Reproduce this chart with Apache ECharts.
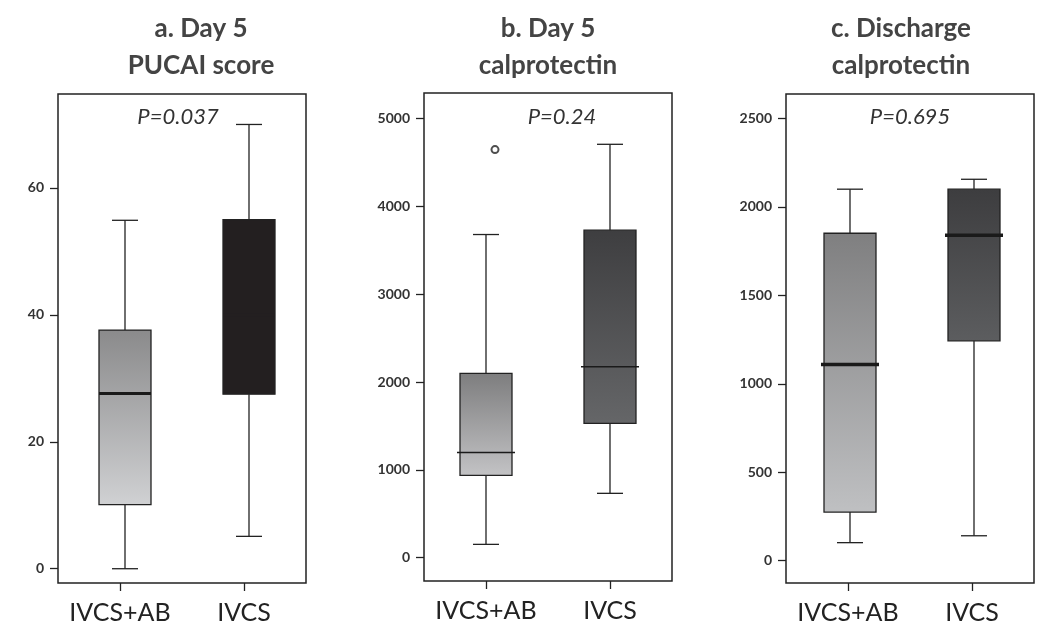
<!DOCTYPE html>
<html>
<head>
  <meta charset="utf-8">
  <title>Day 5 PUCAI / calprotectin</title>
  <script src="https://cdn.jsdelivr.net/npm/echarts@6/dist/echarts.min.js"></script>
  <style>
    html, body { margin: 0; padding: 0; background: #fff; }
    #chart { width: 1042px; height: 631px; }
  </style>
</head>
<body>
  <div id="chart"></div>
  <script>
    // categorias y datos
    const groups = ['IVCS+AB', 'IVCS'];
    const titles = ['a. Day 5\nPUCAI score', 'b. Day 5\ncalprotectin', 'c. Discharge\ncalprotectin'];
    const pValues = ['P=0.037', 'P=0.24', 'P=0.695'];

    // [low, q1, median, q3, high]
    const pucaiDay5 = [[0, 10.1, 27.6, 37.6, 54.9], [5.1, 27.5, 40, 55, 70]];
    const calproDay5 = [[152, 937, 1199, 2098, 3679], [733, 1529, 2173, 3728, 4706]];
    const calproDischarge = [[102, 275, 1109, 1851, 2100], [141, 1243, 1840, 2100, 2156]];
    const outliersDay5 = [[0, 4646]];

    const yMins = [-2.25, -265, -126];
    const yMaxs = [74.8, 5290, 2638];
    const yTicks = [[0, 20, 40, 60], [0, 1000, 2000, 3000, 4000, 5000], [0, 500, 1000, 1500, 2000, 2500]];

    // estilos
    const grids = [
      { left: 58, top: 94, width: 248, height: 489 },
      { left: 424, top: 93, width: 248, height: 488 },
      { left: 786, top: 94, width: 248, height: 489 }
    ];
    const titleX = [196, 543, 896];
    const pX = [173, 557, 905];
    const boxShift = [5, 0, 2];
    const fills = [
      [['#8a8a8b', '#d0d1d3'], ['#231f20', '#231f20']],
      [['#7d7d7e', '#c3c3c5'], ['#3e3e40', '#656668']],
      [['#7f7f80', '#bfc0c2'], ['#3d3d3f', '#5c5d5f']]
    ];
    const medianW = [[3, 3], [1.5, 1.5], [3.5, 3.5]];
    const medianExt = [[0, 0], [3, 3], [3, 3]];
    const medianColor = [['#1a1a1a', '#231f20'], ['#1a1a1a', '#1a1a1a'], ['#1a1a1a', '#1a1a1a']];

    var myChart = echarts.init(document.getElementById('chart'));

    function makeRender(panel) {
      return function (params, api) {
        const i = api.value(0);
        const x = api.coord([i, 0])[0] + boxShift[panel];
        const yl = api.coord([i, api.value(1)])[1];
        const y1 = api.coord([i, api.value(2)])[1];
        const ym = api.coord([i, api.value(3)])[1];
        const y3 = api.coord([i, api.value(4)])[1];
        const yh = api.coord([i, api.value(5)])[1];
        const hw = 26, cw = 13;
        const f = fills[panel][i];
        const ln = { stroke: '#222', lineWidth: 1.3 };
        const ext = medianExt[panel][i];
        return {
          type: 'group',
          children: [
            { type: 'line', shape: { x1: x, y1: yh, x2: x, y2: y3 }, style: ln },
            { type: 'line', shape: { x1: x, y1: y1, x2: x, y2: yl }, style: ln },
            { type: 'line', shape: { x1: x - cw, y1: yh, x2: x + cw, y2: yh }, style: ln },
            { type: 'line', shape: { x1: x - cw, y1: yl, x2: x + cw, y2: yl }, style: ln },
            {
              type: 'rect',
              shape: { x: x - hw, y: y3, width: hw * 2, height: y1 - y3 },
              style: {
                fill: new echarts.graphic.LinearGradient(0, 0, 0, 1, [
                  { offset: 0, color: f[0] }, { offset: 1, color: f[1] }
                ]),
                stroke: '#222', lineWidth: 1.3
              }
            },
            {
              type: 'line',
              shape: { x1: x - hw - ext, y1: ym, x2: x + hw + ext, y2: ym },
              style: { stroke: medianColor[panel][i], lineWidth: medianW[panel][i] }
            }
          ]
        };
      };
    }

    const allData = [pucaiDay5, calproDay5, calproDischarge];

    const option = {
      animation: false,
      textStyle: { fontFamily: 'Lato' },
      title: titles.map((t, k) => ({
        text: t,
        left: titleX[k],
        top: 5,
        textAlign: 'center',
        textStyle: { fontFamily: 'Lato', fontSize: 26, fontWeight: 'bold', color: '#444', lineHeight: 37 }
      })).concat(pValues.map((p, k) => ({
        text: p,
        left: pX[k],
        top: 101,
        textAlign: 'center',
        textStyle: { fontFamily: 'Lato', fontSize: 22, fontStyle: 'italic', fontWeight: 'normal', color: '#333' }
      }))),
      grid: grids.map(g => Object.assign({ show: true, borderColor: '#222', borderWidth: 1.5, backgroundColor: '#fff' }, g)),
      xAxis: grids.map((g, k) => ({
        type: 'category',
        gridIndex: k,
        data: groups,
        axisLine: { show: false, onZero: false },
        axisTick: { show: true, alignWithLabel: true, length: 8, lineStyle: { color: '#222', width: 1.3 } },
        axisLabel: { interval: 0, fontFamily: 'Lato', fontSize: 25, color: '#222', margin: 17 },
        splitLine: { show: false }
      })),
      yAxis: grids.map((g, k) => ({
        type: 'value',
        gridIndex: k,
        min: yMins[k],
        max: yMaxs[k],
        axisLine: { show: false },
        axisTick: { show: true, length: 8, customValues: yTicks[k], lineStyle: { color: '#222', width: 1.3 } },
        axisLabel: {
          customValues: yTicks[k],
          formatter: v => String(v),
          fontFamily: 'Lato', fontSize: 14, fontWeight: 'bold', color: '#333', margin: 14
        },
        splitLine: { show: false }
      })),
      series: allData.map((d, k) => ({
        type: 'custom',
        xAxisIndex: k,
        yAxisIndex: k,
        renderItem: makeRender(k),
        encode: { x: 0, y: [1, 2, 3, 4, 5] },
        data: d.map((v, i) => [i].concat(v))
      })).concat([{
        type: 'scatter',
        xAxisIndex: 1,
        yAxisIndex: 1,
        symbol: 'emptyCircle',
        symbolSize: 7,
        symbolOffset: [9, 0],
        itemStyle: { color: '#222', borderWidth: 1.5 },
        data: outliersDay5
      }])
    };

    myChart.setOption(option);
  </script>
</body>
</html>
